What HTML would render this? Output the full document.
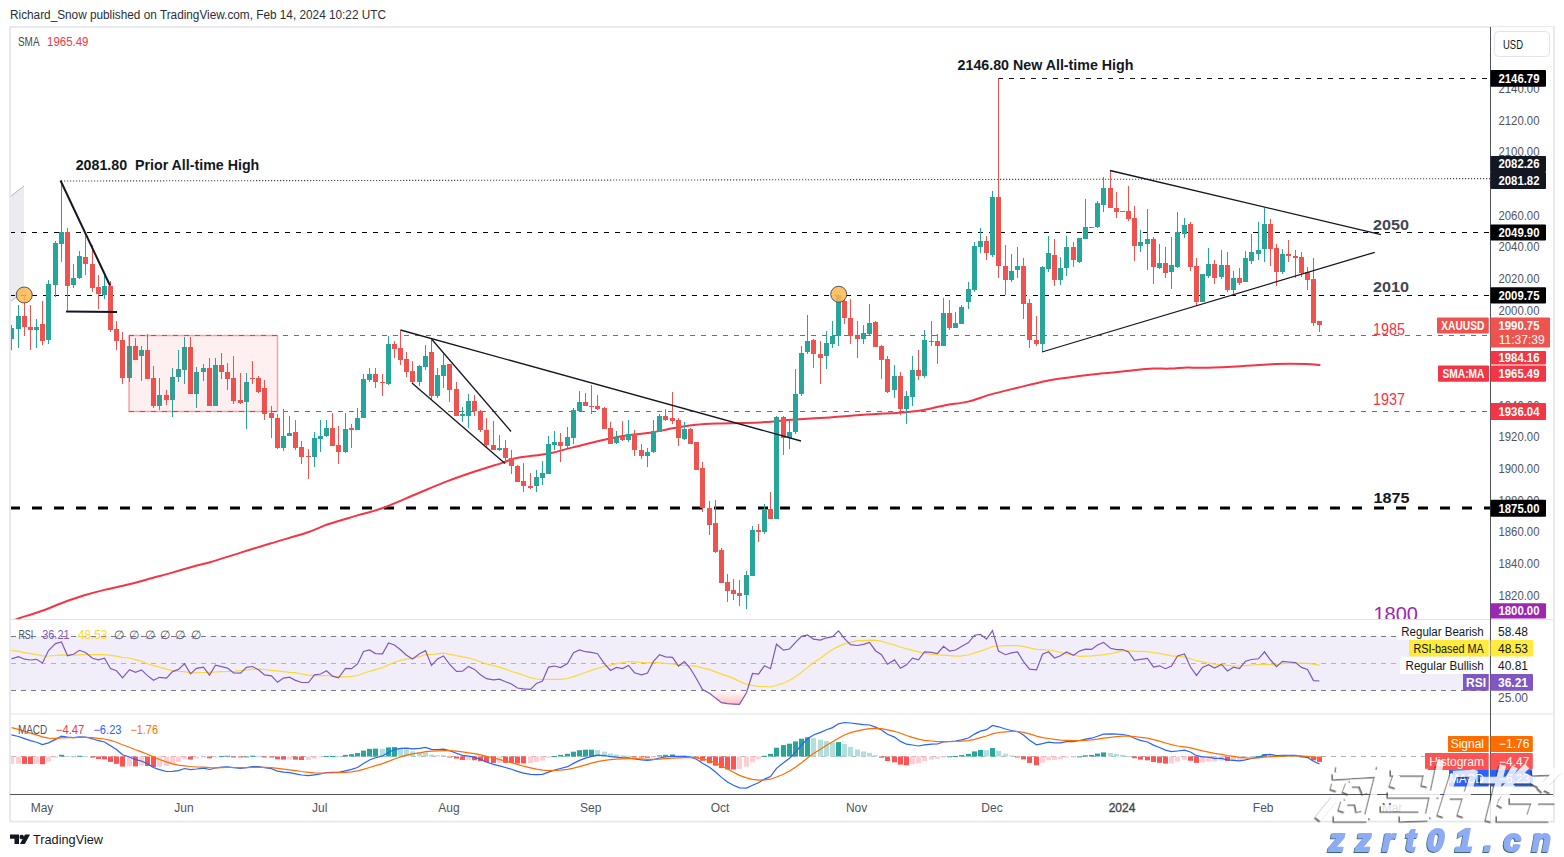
<!DOCTYPE html><html><head><meta charset="utf-8"><style>html,body{margin:0;padding:0;background:#fff;width:1564px;height:857px;overflow:hidden}svg{display:block}text{font-family:"Liberation Sans",sans-serif}</style></head><body>
<svg width="1564" height="857" viewBox="0 0 1564 857">
<text x="10" y="19" font-size="12" fill="#2a2e39" textLength="376" lengthAdjust="spacingAndGlyphs">Richard_Snow published on TradingView.com, Feb 14, 2024 10:22 UTC</text>
<rect x="10" y="27" width="1544" height="794.5" fill="none" stroke="#e6e8ee" stroke-width="1.8"/>
<line x1="10" y1="619.5" x2="1553" y2="619.5" stroke="#e0e3eb" stroke-width="1"/>
<line x1="10" y1="714" x2="1553" y2="714" stroke="#e0e3eb" stroke-width="1"/>
<line x1="10" y1="794.5" x2="1553" y2="794.5" stroke="#50535e" stroke-width="1"/>
<line x1="1490.5" y1="27" x2="1490.5" y2="821" stroke="#50535e" stroke-width="1"/>
<defs><clipPath id="mp"><rect x="11" y="27" width="1479" height="592"/></clipPath><clipPath id="rp"><rect x="11" y="620" width="1479" height="94"/></clipPath><clipPath id="mc"><rect x="11" y="714.5" width="1479" height="80"/></clipPath><linearGradient id="osg" x1="0" y1="0" x2="0" y2="1"><stop offset="0" stop-color="#ff5252" stop-opacity="0"/><stop offset="1" stop-color="#ff5252" stop-opacity="0.45"/></linearGradient></defs>
<g clip-path="url(#mp)">
<polygon points="10,197 24,186 24,291 10,302" fill="#ebecef"/>
<line x1="10" y1="197" x2="24" y2="186" stroke="#b2b5be" stroke-width="1"/>
<line x1="10" y1="302" x2="24" y2="291" stroke="#b2b5be" stroke-width="1"/>
<line x1="10" y1="232.5" x2="1490" y2="232.5" stroke="#000" stroke-width="1" stroke-dasharray="5,6" stroke-dashoffset="-0"/>
<line x1="10" y1="295.5" x2="1490" y2="295.5" stroke="#000" stroke-width="1" stroke-dasharray="5,6"/>
<line x1="10" y1="508" x2="1490" y2="508" stroke="#000" stroke-width="3" stroke-dasharray="10,12"/>
<line x1="61" y1="181" x2="1490" y2="178.6" stroke="#434651" stroke-width="1.1" stroke-dasharray="1.2,1.8"/>
<line x1="998" y1="78.5" x2="1490" y2="78.5" stroke="#131722" stroke-width="1" stroke-dasharray="5,6"/>
<line x1="129" y1="335.5" x2="1490" y2="335.5" stroke="#f23645" stroke-width="1" stroke-dasharray="5,6"/>
<line x1="129" y1="411.5" x2="1490" y2="411.5" stroke="#f23645" stroke-width="1" stroke-dasharray="5,6"/>
<path d="M10.00,621.50 C11.33,621.02 12.63,620.38 18.00,618.60 C23.37,616.82 34.65,613.48 42.20,610.80 C49.75,608.12 56.27,605.08 63.30,602.50 C70.33,599.92 77.37,597.45 84.40,595.30 C91.43,593.15 98.00,591.43 105.50,589.60 C113.00,587.77 121.20,586.35 129.40,584.30 C137.60,582.25 148.13,579.08 154.70,577.30 C161.27,575.52 161.77,575.57 168.80,573.60 C175.83,571.63 190.03,567.40 196.90,565.50 C203.77,563.60 202.83,564.30 210.00,562.20 C217.17,560.10 229.85,556.02 239.90,552.90 C249.95,549.78 259.08,546.90 270.30,543.50 C281.52,540.10 297.60,535.70 307.20,532.50 C316.80,529.30 319.52,527.15 327.90,524.30 C336.28,521.45 348.37,518.12 357.50,515.40 C366.63,512.68 372.70,511.65 382.70,508.00 C392.70,504.35 406.60,498.02 417.50,493.50 C428.40,488.98 438.30,484.65 448.10,480.90 C457.90,477.15 467.15,474.05 476.30,471.00 C485.45,467.95 496.25,464.77 503.00,462.60 C509.75,460.43 509.13,459.53 516.80,458.00 C524.47,456.47 539.80,455.13 549.00,453.40 C558.20,451.67 562.40,449.95 572.00,447.60 C581.60,445.25 597.00,441.40 606.60,439.30 C616.20,437.20 622.37,436.08 629.60,435.00 C636.83,433.92 642.77,433.93 650.00,432.80 C657.23,431.67 665.33,429.55 673.00,428.20 C680.67,426.85 688.33,425.50 696.00,424.70 C703.67,423.90 711.33,423.68 719.00,423.40 C726.67,423.12 734.33,423.22 742.00,423.00 C749.67,422.78 757.32,422.58 765.00,422.10 C772.68,421.62 780.42,420.72 788.10,420.10 C795.78,419.48 804.12,418.85 811.10,418.40 C818.08,417.95 823.02,417.90 830.00,417.40 C836.98,416.90 845.33,415.97 853.00,415.40 C860.67,414.83 868.33,414.43 876.00,414.00 C883.67,413.57 891.32,413.43 899.00,412.80 C906.68,412.17 914.42,411.45 922.10,410.20 C929.78,408.95 937.43,406.73 945.10,405.30 C952.77,403.87 960.43,403.42 968.10,401.60 C975.77,399.78 982.90,396.70 991.10,394.40 C999.30,392.10 1008.15,390.05 1017.30,387.80 C1026.45,385.55 1037.38,382.63 1046.00,380.90 C1054.62,379.17 1061.32,378.45 1069.00,377.40 C1076.68,376.35 1084.42,375.45 1092.10,374.60 C1099.78,373.75 1107.43,373.12 1115.10,372.30 C1122.77,371.48 1131.77,370.32 1138.10,369.70 C1144.43,369.08 1147.78,368.78 1153.10,368.60 C1158.42,368.42 1164.30,368.78 1170.00,368.60 C1175.70,368.42 1182.12,367.63 1187.30,367.50 C1192.48,367.37 1193.63,367.93 1201.10,367.80 C1208.57,367.67 1222.90,367.12 1232.10,366.70 C1241.30,366.28 1249.00,365.75 1256.30,365.30 C1263.60,364.85 1267.65,364.22 1275.90,364.00 C1284.15,363.78 1298.52,363.83 1305.80,364.00 C1313.08,364.17 1317.30,364.83 1319.60,365.00" fill="none" stroke="#f23645" stroke-width="2" stroke-linecap="round"/>
<rect x="11" y="325" width="1" height="25" fill="#26a69a"/>
<rect x="9" y="328" width="5" height="11" fill="#26a69a"/>
<rect x="18" y="305" width="1" height="43" fill="#26a69a"/>
<rect x="16" y="316" width="5" height="13" fill="#26a69a"/>
<rect x="24" y="295" width="1" height="41" fill="#ef5350"/>
<rect x="22" y="316" width="5" height="11" fill="#ef5350"/>
<rect x="30" y="305" width="1" height="45" fill="#ef5350"/>
<rect x="28" y="327" width="5" height="3" fill="#ef5350"/>
<rect x="36" y="319" width="1" height="29" fill="#26a69a"/>
<rect x="34" y="327" width="5" height="3" fill="#26a69a"/>
<rect x="42" y="301" width="1" height="44" fill="#ef5350"/>
<rect x="40" y="324" width="5" height="17" fill="#ef5350"/>
<rect x="48" y="280" width="1" height="64" fill="#26a69a"/>
<rect x="46" y="284" width="5" height="56" fill="#26a69a"/>
<rect x="55" y="241" width="1" height="56" fill="#26a69a"/>
<rect x="53" y="243" width="5" height="42" fill="#26a69a"/>
<rect x="61" y="180" width="1" height="82" fill="#26a69a"/>
<rect x="59" y="232" width="5" height="12" fill="#26a69a"/>
<rect x="67" y="228" width="1" height="82" fill="#ef5350"/>
<rect x="65" y="232" width="5" height="54" fill="#ef5350"/>
<rect x="73" y="264" width="1" height="24" fill="#26a69a"/>
<rect x="71" y="278" width="5" height="7" fill="#26a69a"/>
<rect x="79" y="251" width="1" height="28" fill="#26a69a"/>
<rect x="77" y="256" width="5" height="22" fill="#26a69a"/>
<rect x="85" y="236" width="1" height="39" fill="#ef5350"/>
<rect x="83" y="257" width="5" height="7" fill="#ef5350"/>
<rect x="92" y="245" width="1" height="47" fill="#ef5350"/>
<rect x="90" y="264" width="5" height="24" fill="#ef5350"/>
<rect x="98" y="275" width="1" height="34" fill="#ef5350"/>
<rect x="96" y="287" width="5" height="7" fill="#ef5350"/>
<rect x="104" y="275" width="1" height="24" fill="#26a69a"/>
<rect x="102" y="286" width="5" height="9" fill="#26a69a"/>
<rect x="110" y="281" width="1" height="51" fill="#ef5350"/>
<rect x="108" y="286" width="5" height="44" fill="#ef5350"/>
<rect x="116" y="321" width="1" height="29" fill="#ef5350"/>
<rect x="114" y="329" width="5" height="12" fill="#ef5350"/>
<rect x="122" y="332" width="1" height="52" fill="#ef5350"/>
<rect x="120" y="340" width="5" height="38" fill="#ef5350"/>
<rect x="129" y="335" width="1" height="47" fill="#26a69a"/>
<rect x="127" y="346" width="5" height="32" fill="#26a69a"/>
<rect x="135" y="338" width="1" height="22" fill="#ef5350"/>
<rect x="133" y="346" width="5" height="14" fill="#ef5350"/>
<rect x="141" y="346" width="1" height="35" fill="#26a69a"/>
<rect x="139" y="350" width="5" height="6" fill="#26a69a"/>
<rect x="147" y="334" width="1" height="45" fill="#ef5350"/>
<rect x="145" y="350" width="5" height="29" fill="#ef5350"/>
<rect x="153" y="366" width="1" height="42" fill="#ef5350"/>
<rect x="151" y="378" width="5" height="28" fill="#ef5350"/>
<rect x="159" y="378" width="1" height="32" fill="#26a69a"/>
<rect x="157" y="395" width="5" height="11" fill="#26a69a"/>
<rect x="166" y="390" width="1" height="15" fill="#ef5350"/>
<rect x="164" y="395" width="5" height="5" fill="#ef5350"/>
<rect x="172" y="368" width="1" height="49" fill="#26a69a"/>
<rect x="170" y="377" width="5" height="23" fill="#26a69a"/>
<rect x="178" y="350" width="1" height="32" fill="#26a69a"/>
<rect x="176" y="369" width="5" height="8" fill="#26a69a"/>
<rect x="184" y="337" width="1" height="47" fill="#26a69a"/>
<rect x="182" y="347" width="5" height="23" fill="#26a69a"/>
<rect x="190" y="337" width="1" height="57" fill="#ef5350"/>
<rect x="188" y="347" width="5" height="47" fill="#ef5350"/>
<rect x="196" y="367" width="1" height="41" fill="#26a69a"/>
<rect x="194" y="372" width="5" height="22" fill="#26a69a"/>
<rect x="203" y="364" width="1" height="17" fill="#26a69a"/>
<rect x="201" y="368" width="5" height="4" fill="#26a69a"/>
<rect x="209" y="358" width="1" height="48" fill="#ef5350"/>
<rect x="207" y="368" width="5" height="38" fill="#ef5350"/>
<rect x="215" y="358" width="1" height="48" fill="#26a69a"/>
<rect x="213" y="365" width="5" height="41" fill="#26a69a"/>
<rect x="221" y="353" width="1" height="26" fill="#ef5350"/>
<rect x="219" y="365" width="5" height="7" fill="#ef5350"/>
<rect x="227" y="363" width="1" height="27" fill="#ef5350"/>
<rect x="225" y="372" width="5" height="7" fill="#ef5350"/>
<rect x="233" y="356" width="1" height="48" fill="#ef5350"/>
<rect x="231" y="378" width="5" height="23" fill="#ef5350"/>
<rect x="240" y="373" width="1" height="31" fill="#ef5350"/>
<rect x="238" y="400" width="5" height="3" fill="#ef5350"/>
<rect x="246" y="373" width="1" height="56" fill="#26a69a"/>
<rect x="244" y="382" width="5" height="20" fill="#26a69a"/>
<rect x="252" y="361" width="1" height="23" fill="#ef5350"/>
<rect x="250" y="378" width="5" height="1" fill="#ef5350"/>
<rect x="258" y="376" width="1" height="17" fill="#ef5350"/>
<rect x="256" y="378" width="5" height="14" fill="#ef5350"/>
<rect x="264" y="380" width="1" height="40" fill="#ef5350"/>
<rect x="262" y="388" width="5" height="26" fill="#ef5350"/>
<rect x="271" y="406" width="1" height="32" fill="#ef5350"/>
<rect x="269" y="413" width="5" height="5" fill="#ef5350"/>
<rect x="277" y="414" width="1" height="35" fill="#ef5350"/>
<rect x="275" y="418" width="5" height="30" fill="#ef5350"/>
<rect x="283" y="409" width="1" height="42" fill="#26a69a"/>
<rect x="281" y="436" width="5" height="12" fill="#26a69a"/>
<rect x="289" y="416" width="1" height="20" fill="#26a69a"/>
<rect x="287" y="433" width="5" height="3" fill="#26a69a"/>
<rect x="295" y="420" width="1" height="30" fill="#ef5350"/>
<rect x="293" y="432" width="5" height="16" fill="#ef5350"/>
<rect x="301" y="441" width="1" height="23" fill="#ef5350"/>
<rect x="299" y="447" width="5" height="10" fill="#ef5350"/>
<rect x="308" y="449" width="1" height="30" fill="#ef5350"/>
<rect x="306" y="456" width="5" height="1" fill="#ef5350"/>
<rect x="314" y="432" width="1" height="35" fill="#26a69a"/>
<rect x="312" y="438" width="5" height="19" fill="#26a69a"/>
<rect x="320" y="420" width="1" height="32" fill="#26a69a"/>
<rect x="318" y="436" width="5" height="3" fill="#26a69a"/>
<rect x="326" y="420" width="1" height="17" fill="#26a69a"/>
<rect x="324" y="428" width="5" height="8" fill="#26a69a"/>
<rect x="332" y="413" width="1" height="33" fill="#ef5350"/>
<rect x="330" y="428" width="5" height="18" fill="#ef5350"/>
<rect x="338" y="426" width="1" height="38" fill="#ef5350"/>
<rect x="336" y="445" width="5" height="7" fill="#ef5350"/>
<rect x="345" y="413" width="1" height="40" fill="#26a69a"/>
<rect x="343" y="429" width="5" height="23" fill="#26a69a"/>
<rect x="351" y="424" width="1" height="24" fill="#ef5350"/>
<rect x="349" y="428" width="5" height="2" fill="#ef5350"/>
<rect x="357" y="408" width="1" height="22" fill="#26a69a"/>
<rect x="355" y="418" width="5" height="12" fill="#26a69a"/>
<rect x="363" y="374" width="1" height="44" fill="#26a69a"/>
<rect x="361" y="379" width="5" height="39" fill="#26a69a"/>
<rect x="369" y="368" width="1" height="14" fill="#26a69a"/>
<rect x="367" y="374" width="5" height="6" fill="#26a69a"/>
<rect x="375" y="368" width="1" height="20" fill="#ef5350"/>
<rect x="373" y="374" width="5" height="8" fill="#ef5350"/>
<rect x="382" y="374" width="1" height="22" fill="#ef5350"/>
<rect x="380" y="382" width="5" height="1" fill="#ef5350"/>
<rect x="388" y="336" width="1" height="49" fill="#26a69a"/>
<rect x="386" y="344" width="5" height="40" fill="#26a69a"/>
<rect x="394" y="341" width="1" height="17" fill="#ef5350"/>
<rect x="392" y="344" width="5" height="5" fill="#ef5350"/>
<rect x="400" y="330" width="1" height="35" fill="#ef5350"/>
<rect x="398" y="348" width="5" height="12" fill="#ef5350"/>
<rect x="406" y="352" width="1" height="25" fill="#ef5350"/>
<rect x="404" y="359" width="5" height="13" fill="#ef5350"/>
<rect x="412" y="361" width="1" height="22" fill="#ef5350"/>
<rect x="410" y="371" width="5" height="11" fill="#ef5350"/>
<rect x="419" y="365" width="1" height="21" fill="#26a69a"/>
<rect x="417" y="366" width="5" height="16" fill="#26a69a"/>
<rect x="425" y="345" width="1" height="25" fill="#26a69a"/>
<rect x="423" y="356" width="5" height="11" fill="#26a69a"/>
<rect x="431" y="340" width="1" height="60" fill="#ef5350"/>
<rect x="429" y="352" width="5" height="44" fill="#ef5350"/>
<rect x="437" y="368" width="1" height="30" fill="#26a69a"/>
<rect x="435" y="375" width="5" height="21" fill="#26a69a"/>
<rect x="443" y="354" width="1" height="34" fill="#26a69a"/>
<rect x="441" y="365" width="5" height="11" fill="#26a69a"/>
<rect x="449" y="364" width="1" height="38" fill="#ef5350"/>
<rect x="447" y="364" width="5" height="26" fill="#ef5350"/>
<rect x="456" y="382" width="1" height="34" fill="#ef5350"/>
<rect x="454" y="389" width="5" height="27" fill="#ef5350"/>
<rect x="462" y="407" width="1" height="15" fill="#26a69a"/>
<rect x="460" y="414" width="5" height="2" fill="#26a69a"/>
<rect x="468" y="394" width="1" height="34" fill="#26a69a"/>
<rect x="466" y="401" width="5" height="15" fill="#26a69a"/>
<rect x="474" y="395" width="1" height="21" fill="#ef5350"/>
<rect x="472" y="401" width="5" height="10" fill="#ef5350"/>
<rect x="480" y="410" width="1" height="22" fill="#ef5350"/>
<rect x="478" y="411" width="5" height="19" fill="#ef5350"/>
<rect x="486" y="418" width="1" height="30" fill="#ef5350"/>
<rect x="484" y="430" width="5" height="15" fill="#ef5350"/>
<rect x="493" y="421" width="1" height="29" fill="#ef5350"/>
<rect x="491" y="445" width="5" height="5" fill="#ef5350"/>
<rect x="499" y="435" width="1" height="16" fill="#26a69a"/>
<rect x="497" y="448" width="5" height="2" fill="#26a69a"/>
<rect x="505" y="440" width="1" height="22" fill="#ef5350"/>
<rect x="503" y="448" width="5" height="10" fill="#ef5350"/>
<rect x="511" y="450" width="1" height="24" fill="#ef5350"/>
<rect x="509" y="458" width="5" height="8" fill="#ef5350"/>
<rect x="517" y="465" width="1" height="17" fill="#ef5350"/>
<rect x="515" y="466" width="5" height="16" fill="#ef5350"/>
<rect x="523" y="463" width="1" height="29" fill="#ef5350"/>
<rect x="521" y="481" width="5" height="5" fill="#ef5350"/>
<rect x="530" y="473" width="1" height="16" fill="#ef5350"/>
<rect x="528" y="486" width="5" height="2" fill="#ef5350"/>
<rect x="536" y="470" width="1" height="22" fill="#26a69a"/>
<rect x="534" y="477" width="5" height="9" fill="#26a69a"/>
<rect x="542" y="461" width="1" height="24" fill="#26a69a"/>
<rect x="540" y="473" width="5" height="5" fill="#26a69a"/>
<rect x="548" y="436" width="1" height="38" fill="#26a69a"/>
<rect x="546" y="444" width="5" height="30" fill="#26a69a"/>
<rect x="554" y="431" width="1" height="19" fill="#26a69a"/>
<rect x="552" y="442" width="5" height="3" fill="#26a69a"/>
<rect x="560" y="433" width="1" height="29" fill="#ef5350"/>
<rect x="558" y="442" width="5" height="4" fill="#ef5350"/>
<rect x="567" y="427" width="1" height="21" fill="#26a69a"/>
<rect x="565" y="437" width="5" height="9" fill="#26a69a"/>
<rect x="573" y="408" width="1" height="36" fill="#26a69a"/>
<rect x="571" y="410" width="5" height="28" fill="#26a69a"/>
<rect x="579" y="391" width="1" height="21" fill="#26a69a"/>
<rect x="577" y="402" width="5" height="9" fill="#26a69a"/>
<rect x="585" y="393" width="1" height="13" fill="#ef5350"/>
<rect x="583" y="402" width="5" height="4" fill="#ef5350"/>
<rect x="591" y="385" width="1" height="29" fill="#ef5350"/>
<rect x="589" y="406" width="5" height="1" fill="#ef5350"/>
<rect x="597" y="395" width="1" height="15" fill="#ef5350"/>
<rect x="595" y="406" width="5" height="3" fill="#ef5350"/>
<rect x="604" y="407" width="1" height="22" fill="#ef5350"/>
<rect x="602" y="408" width="5" height="21" fill="#ef5350"/>
<rect x="610" y="422" width="1" height="22" fill="#ef5350"/>
<rect x="608" y="428" width="5" height="16" fill="#ef5350"/>
<rect x="616" y="431" width="1" height="13" fill="#26a69a"/>
<rect x="614" y="438" width="5" height="5" fill="#26a69a"/>
<rect x="622" y="421" width="1" height="20" fill="#ef5350"/>
<rect x="620" y="437" width="5" height="3" fill="#ef5350"/>
<rect x="628" y="420" width="1" height="22" fill="#26a69a"/>
<rect x="626" y="434" width="5" height="6" fill="#26a69a"/>
<rect x="634" y="430" width="1" height="26" fill="#ef5350"/>
<rect x="632" y="434" width="5" height="16" fill="#ef5350"/>
<rect x="641" y="444" width="1" height="15" fill="#ef5350"/>
<rect x="639" y="450" width="5" height="6" fill="#ef5350"/>
<rect x="647" y="448" width="1" height="19" fill="#26a69a"/>
<rect x="645" y="452" width="5" height="4" fill="#26a69a"/>
<rect x="653" y="420" width="1" height="33" fill="#26a69a"/>
<rect x="651" y="431" width="5" height="21" fill="#26a69a"/>
<rect x="659" y="414" width="1" height="18" fill="#26a69a"/>
<rect x="657" y="416" width="5" height="16" fill="#26a69a"/>
<rect x="665" y="409" width="1" height="12" fill="#ef5350"/>
<rect x="663" y="416" width="5" height="4" fill="#ef5350"/>
<rect x="672" y="392" width="1" height="32" fill="#ef5350"/>
<rect x="670" y="418" width="5" height="3" fill="#ef5350"/>
<rect x="678" y="418" width="1" height="28" fill="#ef5350"/>
<rect x="676" y="420" width="5" height="18" fill="#ef5350"/>
<rect x="684" y="422" width="1" height="18" fill="#26a69a"/>
<rect x="682" y="429" width="5" height="10" fill="#26a69a"/>
<rect x="690" y="428" width="1" height="16" fill="#ef5350"/>
<rect x="688" y="429" width="5" height="15" fill="#ef5350"/>
<rect x="696" y="442" width="1" height="28" fill="#ef5350"/>
<rect x="694" y="442" width="5" height="28" fill="#ef5350"/>
<rect x="702" y="462" width="1" height="50" fill="#ef5350"/>
<rect x="700" y="468" width="5" height="40" fill="#ef5350"/>
<rect x="709" y="501" width="1" height="34" fill="#ef5350"/>
<rect x="707" y="508" width="5" height="17" fill="#ef5350"/>
<rect x="715" y="500" width="1" height="53" fill="#ef5350"/>
<rect x="713" y="523" width="5" height="29" fill="#ef5350"/>
<rect x="721" y="548" width="1" height="35" fill="#ef5350"/>
<rect x="719" y="550" width="5" height="33" fill="#ef5350"/>
<rect x="727" y="574" width="1" height="28" fill="#ef5350"/>
<rect x="725" y="582" width="5" height="9" fill="#ef5350"/>
<rect x="733" y="579" width="1" height="21" fill="#ef5350"/>
<rect x="731" y="590" width="5" height="4" fill="#ef5350"/>
<rect x="739" y="580" width="1" height="26" fill="#ef5350"/>
<rect x="737" y="593" width="5" height="3" fill="#ef5350"/>
<rect x="746" y="571" width="1" height="38" fill="#26a69a"/>
<rect x="744" y="575" width="5" height="20" fill="#26a69a"/>
<rect x="752" y="526" width="1" height="50" fill="#26a69a"/>
<rect x="750" y="530" width="5" height="46" fill="#26a69a"/>
<rect x="758" y="524" width="1" height="18" fill="#ef5350"/>
<rect x="756" y="530" width="5" height="2" fill="#ef5350"/>
<rect x="764" y="504" width="1" height="30" fill="#26a69a"/>
<rect x="762" y="509" width="5" height="23" fill="#26a69a"/>
<rect x="770" y="492" width="1" height="27" fill="#ef5350"/>
<rect x="768" y="509" width="5" height="10" fill="#ef5350"/>
<rect x="776" y="416" width="1" height="103" fill="#26a69a"/>
<rect x="774" y="417" width="5" height="102" fill="#26a69a"/>
<rect x="783" y="416" width="1" height="39" fill="#ef5350"/>
<rect x="781" y="417" width="5" height="21" fill="#ef5350"/>
<rect x="789" y="420" width="1" height="29" fill="#26a69a"/>
<rect x="787" y="432" width="5" height="6" fill="#26a69a"/>
<rect x="795" y="369" width="1" height="65" fill="#26a69a"/>
<rect x="793" y="394" width="5" height="38" fill="#26a69a"/>
<rect x="801" y="346" width="1" height="50" fill="#26a69a"/>
<rect x="799" y="353" width="5" height="41" fill="#26a69a"/>
<rect x="807" y="315" width="1" height="39" fill="#26a69a"/>
<rect x="805" y="341" width="5" height="11" fill="#26a69a"/>
<rect x="813" y="339" width="1" height="29" fill="#ef5350"/>
<rect x="811" y="340" width="5" height="14" fill="#ef5350"/>
<rect x="820" y="341" width="1" height="43" fill="#ef5350"/>
<rect x="818" y="354" width="5" height="4" fill="#ef5350"/>
<rect x="826" y="331" width="1" height="38" fill="#26a69a"/>
<rect x="824" y="343" width="5" height="13" fill="#26a69a"/>
<rect x="832" y="321" width="1" height="27" fill="#26a69a"/>
<rect x="830" y="336" width="5" height="8" fill="#26a69a"/>
<rect x="838" y="294" width="1" height="52" fill="#26a69a"/>
<rect x="836" y="295" width="5" height="41" fill="#26a69a"/>
<rect x="844" y="299" width="1" height="25" fill="#ef5350"/>
<rect x="842" y="301" width="5" height="17" fill="#ef5350"/>
<rect x="850" y="299" width="1" height="45" fill="#ef5350"/>
<rect x="848" y="318" width="5" height="18" fill="#ef5350"/>
<rect x="857" y="321" width="1" height="37" fill="#ef5350"/>
<rect x="855" y="336" width="5" height="3" fill="#ef5350"/>
<rect x="863" y="325" width="1" height="19" fill="#26a69a"/>
<rect x="861" y="333" width="5" height="6" fill="#26a69a"/>
<rect x="869" y="304" width="1" height="31" fill="#26a69a"/>
<rect x="867" y="323" width="5" height="11" fill="#26a69a"/>
<rect x="875" y="321" width="1" height="26" fill="#ef5350"/>
<rect x="873" y="322" width="5" height="25" fill="#ef5350"/>
<rect x="881" y="345" width="1" height="34" fill="#ef5350"/>
<rect x="879" y="346" width="5" height="14" fill="#ef5350"/>
<rect x="887" y="356" width="1" height="37" fill="#ef5350"/>
<rect x="885" y="359" width="5" height="33" fill="#ef5350"/>
<rect x="894" y="365" width="1" height="33" fill="#26a69a"/>
<rect x="892" y="376" width="5" height="14" fill="#26a69a"/>
<rect x="900" y="372" width="1" height="43" fill="#ef5350"/>
<rect x="898" y="376" width="5" height="33" fill="#ef5350"/>
<rect x="906" y="391" width="1" height="33" fill="#26a69a"/>
<rect x="904" y="396" width="5" height="13" fill="#26a69a"/>
<rect x="912" y="356" width="1" height="50" fill="#26a69a"/>
<rect x="910" y="370" width="5" height="27" fill="#26a69a"/>
<rect x="918" y="350" width="1" height="30" fill="#ef5350"/>
<rect x="916" y="370" width="5" height="6" fill="#ef5350"/>
<rect x="924" y="330" width="1" height="48" fill="#26a69a"/>
<rect x="922" y="340" width="5" height="36" fill="#26a69a"/>
<rect x="931" y="321" width="1" height="25" fill="#ef5350"/>
<rect x="929" y="341" width="5" height="1" fill="#ef5350"/>
<rect x="937" y="334" width="1" height="30" fill="#ef5350"/>
<rect x="935" y="341" width="5" height="5" fill="#ef5350"/>
<rect x="943" y="298" width="1" height="48" fill="#26a69a"/>
<rect x="941" y="313" width="5" height="33" fill="#26a69a"/>
<rect x="949" y="300" width="1" height="30" fill="#ef5350"/>
<rect x="947" y="313" width="5" height="15" fill="#ef5350"/>
<rect x="955" y="312" width="1" height="16" fill="#26a69a"/>
<rect x="953" y="323" width="5" height="5" fill="#26a69a"/>
<rect x="961" y="305" width="1" height="19" fill="#26a69a"/>
<rect x="959" y="307" width="5" height="17" fill="#26a69a"/>
<rect x="968" y="282" width="1" height="27" fill="#26a69a"/>
<rect x="966" y="289" width="5" height="13" fill="#26a69a"/>
<rect x="974" y="242" width="1" height="50" fill="#26a69a"/>
<rect x="972" y="246" width="5" height="44" fill="#26a69a"/>
<rect x="980" y="228" width="1" height="25" fill="#26a69a"/>
<rect x="978" y="241" width="5" height="6" fill="#26a69a"/>
<rect x="986" y="236" width="1" height="24" fill="#ef5350"/>
<rect x="984" y="241" width="5" height="12" fill="#ef5350"/>
<rect x="992" y="191" width="1" height="66" fill="#26a69a"/>
<rect x="990" y="197" width="5" height="58" fill="#26a69a"/>
<rect x="998" y="78" width="1" height="200" fill="#ef5350"/>
<rect x="996" y="197" width="5" height="69" fill="#ef5350"/>
<rect x="1005" y="245" width="1" height="50" fill="#ef5350"/>
<rect x="1003" y="266" width="5" height="14" fill="#ef5350"/>
<rect x="1011" y="254" width="1" height="28" fill="#26a69a"/>
<rect x="1009" y="271" width="5" height="9" fill="#26a69a"/>
<rect x="1017" y="247" width="1" height="31" fill="#26a69a"/>
<rect x="1015" y="266" width="5" height="4" fill="#26a69a"/>
<rect x="1023" y="258" width="1" height="61" fill="#ef5350"/>
<rect x="1021" y="266" width="5" height="38" fill="#ef5350"/>
<rect x="1029" y="299" width="1" height="49" fill="#ef5350"/>
<rect x="1027" y="303" width="5" height="37" fill="#ef5350"/>
<rect x="1036" y="316" width="1" height="30" fill="#ef5350"/>
<rect x="1034" y="340" width="5" height="4" fill="#ef5350"/>
<rect x="1042" y="266" width="1" height="86" fill="#26a69a"/>
<rect x="1040" y="267" width="5" height="77" fill="#26a69a"/>
<rect x="1048" y="236" width="1" height="36" fill="#26a69a"/>
<rect x="1046" y="253" width="5" height="16" fill="#26a69a"/>
<rect x="1054" y="239" width="1" height="47" fill="#ef5350"/>
<rect x="1052" y="255" width="5" height="25" fill="#ef5350"/>
<rect x="1060" y="257" width="1" height="28" fill="#26a69a"/>
<rect x="1058" y="268" width="5" height="12" fill="#26a69a"/>
<rect x="1066" y="236" width="1" height="40" fill="#26a69a"/>
<rect x="1064" y="247" width="5" height="21" fill="#26a69a"/>
<rect x="1073" y="242" width="1" height="25" fill="#ef5350"/>
<rect x="1071" y="247" width="5" height="13" fill="#ef5350"/>
<rect x="1079" y="238" width="1" height="25" fill="#26a69a"/>
<rect x="1077" y="238" width="5" height="24" fill="#26a69a"/>
<rect x="1085" y="199" width="1" height="40" fill="#26a69a"/>
<rect x="1083" y="227" width="5" height="12" fill="#26a69a"/>
<rect x="1091" y="227" width="1" height="1" fill="#ef5350"/>
<rect x="1089" y="227" width="5" height="1" fill="#ef5350"/>
<rect x="1097" y="201" width="1" height="27" fill="#26a69a"/>
<rect x="1095" y="203" width="5" height="24" fill="#26a69a"/>
<rect x="1103" y="177" width="1" height="35" fill="#26a69a"/>
<rect x="1101" y="188" width="5" height="17" fill="#26a69a"/>
<rect x="1110" y="170" width="1" height="38" fill="#ef5350"/>
<rect x="1108" y="188" width="5" height="20" fill="#ef5350"/>
<rect x="1116" y="192" width="1" height="26" fill="#ef5350"/>
<rect x="1114" y="208" width="5" height="4" fill="#ef5350"/>
<rect x="1122" y="211" width="1" height="1" fill="#26a69a"/>
<rect x="1120" y="211" width="5" height="1" fill="#26a69a"/>
<rect x="1128" y="186" width="1" height="35" fill="#ef5350"/>
<rect x="1126" y="211" width="5" height="8" fill="#ef5350"/>
<rect x="1134" y="206" width="1" height="55" fill="#ef5350"/>
<rect x="1132" y="218" width="5" height="28" fill="#ef5350"/>
<rect x="1140" y="230" width="1" height="22" fill="#26a69a"/>
<rect x="1138" y="242" width="5" height="4" fill="#26a69a"/>
<rect x="1147" y="209" width="1" height="61" fill="#26a69a"/>
<rect x="1145" y="239" width="5" height="5" fill="#26a69a"/>
<rect x="1153" y="237" width="1" height="47" fill="#ef5350"/>
<rect x="1151" y="239" width="5" height="28" fill="#ef5350"/>
<rect x="1159" y="244" width="1" height="25" fill="#26a69a"/>
<rect x="1157" y="263" width="5" height="5" fill="#26a69a"/>
<rect x="1165" y="247" width="1" height="31" fill="#ef5350"/>
<rect x="1163" y="263" width="5" height="10" fill="#ef5350"/>
<rect x="1171" y="237" width="1" height="52" fill="#26a69a"/>
<rect x="1169" y="265" width="5" height="7" fill="#26a69a"/>
<rect x="1177" y="212" width="1" height="56" fill="#26a69a"/>
<rect x="1175" y="232" width="5" height="35" fill="#26a69a"/>
<rect x="1184" y="218" width="1" height="20" fill="#26a69a"/>
<rect x="1182" y="225" width="5" height="9" fill="#26a69a"/>
<rect x="1190" y="222" width="1" height="49" fill="#ef5350"/>
<rect x="1188" y="224" width="5" height="43" fill="#ef5350"/>
<rect x="1196" y="258" width="1" height="48" fill="#ef5350"/>
<rect x="1194" y="266" width="5" height="36" fill="#ef5350"/>
<rect x="1202" y="274" width="1" height="28" fill="#26a69a"/>
<rect x="1200" y="274" width="5" height="28" fill="#26a69a"/>
<rect x="1208" y="248" width="1" height="30" fill="#26a69a"/>
<rect x="1206" y="264" width="5" height="12" fill="#26a69a"/>
<rect x="1214" y="260" width="1" height="24" fill="#ef5350"/>
<rect x="1212" y="264" width="5" height="14" fill="#ef5350"/>
<rect x="1221" y="250" width="1" height="29" fill="#26a69a"/>
<rect x="1219" y="265" width="5" height="12" fill="#26a69a"/>
<rect x="1227" y="252" width="1" height="40" fill="#ef5350"/>
<rect x="1225" y="265" width="5" height="25" fill="#ef5350"/>
<rect x="1233" y="271" width="1" height="23" fill="#26a69a"/>
<rect x="1231" y="278" width="5" height="12" fill="#26a69a"/>
<rect x="1239" y="268" width="1" height="17" fill="#ef5350"/>
<rect x="1237" y="278" width="5" height="5" fill="#ef5350"/>
<rect x="1245" y="251" width="1" height="31" fill="#26a69a"/>
<rect x="1243" y="258" width="5" height="24" fill="#26a69a"/>
<rect x="1251" y="234" width="1" height="30" fill="#26a69a"/>
<rect x="1249" y="252" width="5" height="9" fill="#26a69a"/>
<rect x="1258" y="222" width="1" height="38" fill="#26a69a"/>
<rect x="1256" y="250" width="5" height="4" fill="#26a69a"/>
<rect x="1264" y="208" width="1" height="54" fill="#26a69a"/>
<rect x="1262" y="224" width="5" height="25" fill="#26a69a"/>
<rect x="1270" y="219" width="1" height="47" fill="#ef5350"/>
<rect x="1268" y="224" width="5" height="25" fill="#ef5350"/>
<rect x="1276" y="244" width="1" height="42" fill="#ef5350"/>
<rect x="1274" y="248" width="5" height="24" fill="#ef5350"/>
<rect x="1282" y="249" width="1" height="25" fill="#26a69a"/>
<rect x="1280" y="254" width="5" height="18" fill="#26a69a"/>
<rect x="1288" y="240" width="1" height="22" fill="#ef5350"/>
<rect x="1286" y="254" width="5" height="2" fill="#ef5350"/>
<rect x="1295" y="250" width="1" height="28" fill="#ef5350"/>
<rect x="1293" y="256" width="5" height="2" fill="#ef5350"/>
<rect x="1301" y="252" width="1" height="25" fill="#ef5350"/>
<rect x="1299" y="257" width="5" height="16" fill="#ef5350"/>
<rect x="1307" y="267" width="1" height="23" fill="#ef5350"/>
<rect x="1305" y="272" width="5" height="8" fill="#ef5350"/>
<rect x="1313" y="258" width="1" height="68" fill="#ef5350"/>
<rect x="1311" y="279" width="5" height="44" fill="#ef5350"/>
<rect x="1319" y="321" width="1" height="11" fill="#ef5350"/>
<rect x="1317" y="321" width="5" height="4" fill="#ef5350"/>
<rect x="129" y="335.5" width="148.5" height="76" fill="#f23645" fill-opacity="0.08" stroke="#f23645" stroke-opacity="0.45" stroke-width="1.5"/>
<line x1="60.5" y1="180.5" x2="110" y2="285.5" stroke="#131722" stroke-width="2"/>
<line x1="66" y1="311.5" x2="117" y2="312" stroke="#131722" stroke-width="2"/>
<line x1="400.5" y1="330" x2="801" y2="441" stroke="#131722" stroke-width="1.3"/>
<line x1="431.5" y1="339" x2="511" y2="431.5" stroke="#131722" stroke-width="1.3"/>
<line x1="412" y1="383" x2="505" y2="463.5" stroke="#131722" stroke-width="1.3"/>
<line x1="1110" y1="170.5" x2="1381" y2="234.7" stroke="#131722" stroke-width="1.3"/>
<line x1="1042" y1="352" x2="1374.7" y2="252.3" stroke="#131722" stroke-width="1.3"/>
<circle cx="24.25" cy="295" r="8" fill="#ffb74d" fill-opacity="0.85" stroke="#50535e" stroke-width="1"/>
<circle cx="838.75" cy="294.25" r="8" fill="#ffb74d" fill-opacity="0.85" stroke="#50535e" stroke-width="1"/>
<text x="75.7" y="169.5" font-size="14" font-weight="bold" fill="#131722" textLength="183.6" lengthAdjust="spacingAndGlyphs" xml:space="preserve">2081.80  Prior All-time High</text>
<text x="957.6" y="70.2" font-size="14" font-weight="bold" fill="#131722" textLength="175.8" lengthAdjust="spacingAndGlyphs">2146.80 New All-time High</text>
<text x="1373" y="230" font-size="15" font-weight="bold" fill="#434651" textLength="36" lengthAdjust="spacingAndGlyphs">2050</text>
<text x="1373" y="291.5" font-size="15" font-weight="bold" fill="#434651" textLength="36" lengthAdjust="spacingAndGlyphs">2010</text>
<text x="1373" y="334.7" font-size="16" fill="#f23645" textLength="32" lengthAdjust="spacingAndGlyphs">1985</text>
<text x="1373" y="405" font-size="16" fill="#f23645" textLength="32" lengthAdjust="spacingAndGlyphs">1937</text>
<text x="1373.5" y="502.7" font-size="15" font-weight="bold" fill="#131722" textLength="36" lengthAdjust="spacingAndGlyphs">1875</text>
<text x="1373.5" y="620.5" font-size="21" fill="#9c27b0" textLength="44.5" lengthAdjust="spacingAndGlyphs">1800</text>
</g>
<text x="18" y="45.7" font-size="12.5" fill="#434651" textLength="21.5" lengthAdjust="spacingAndGlyphs">SMA</text>
<text x="47" y="45.7" font-size="12.5" fill="#f23645" textLength="41.5" lengthAdjust="spacingAndGlyphs">1965.49</text>
<text x="1498.5" y="599.7" font-size="12" fill="#50535e" textLength="41" lengthAdjust="spacingAndGlyphs">1820.00</text>
<text x="1498.5" y="568.0" font-size="12" fill="#50535e" textLength="41" lengthAdjust="spacingAndGlyphs">1840.00</text>
<text x="1498.5" y="536.4" font-size="12" fill="#50535e" textLength="41" lengthAdjust="spacingAndGlyphs">1860.00</text>
<text x="1498.5" y="504.7" font-size="12" fill="#50535e" textLength="41" lengthAdjust="spacingAndGlyphs">1880.00</text>
<text x="1498.5" y="473.0" font-size="12" fill="#50535e" textLength="41" lengthAdjust="spacingAndGlyphs">1900.00</text>
<text x="1498.5" y="441.4" font-size="12" fill="#50535e" textLength="41" lengthAdjust="spacingAndGlyphs">1920.00</text>
<text x="1498.5" y="409.7" font-size="12" fill="#50535e" textLength="41" lengthAdjust="spacingAndGlyphs">1940.00</text>
<text x="1498.5" y="378.0" font-size="12" fill="#50535e" textLength="41" lengthAdjust="spacingAndGlyphs">1960.00</text>
<text x="1498.5" y="346.4" font-size="12" fill="#50535e" textLength="41" lengthAdjust="spacingAndGlyphs">1980.00</text>
<text x="1498.5" y="314.7" font-size="12" fill="#50535e" textLength="41" lengthAdjust="spacingAndGlyphs">2000.00</text>
<text x="1498.5" y="283.0" font-size="12" fill="#50535e" textLength="41" lengthAdjust="spacingAndGlyphs">2020.00</text>
<text x="1498.5" y="251.4" font-size="12" fill="#50535e" textLength="41" lengthAdjust="spacingAndGlyphs">2040.00</text>
<text x="1498.5" y="219.7" font-size="12" fill="#50535e" textLength="41" lengthAdjust="spacingAndGlyphs">2060.00</text>
<text x="1498.5" y="188.0" font-size="12" fill="#50535e" textLength="41" lengthAdjust="spacingAndGlyphs">2080.00</text>
<text x="1498.5" y="156.4" font-size="12" fill="#50535e" textLength="41" lengthAdjust="spacingAndGlyphs">2100.00</text>
<text x="1498.5" y="124.7" font-size="12" fill="#50535e" textLength="41" lengthAdjust="spacingAndGlyphs">2120.00</text>
<text x="1498.5" y="93.0" font-size="12" fill="#50535e" textLength="41" lengthAdjust="spacingAndGlyphs">2140.00</text>
<rect x="1491" y="27" width="62" height="33" fill="#fff"/>
<rect x="1494.5" y="31.5" width="55" height="25" rx="4" fill="#fff" stroke="#e0e3eb"/>
<text x="1503" y="48.5" font-size="12" fill="#131722" textLength="20" lengthAdjust="spacingAndGlyphs">USD</text>
<rect x="1490.5" y="70" width="55.5" height="16.8" fill="#000" rx="1"/>
<text x="1498.5" y="82.7" font-size="12" font-weight="bold" fill="#fff" textLength="41" lengthAdjust="spacingAndGlyphs">2146.79</text>
<rect x="1490.5" y="156" width="55.5" height="16" fill="#131722" rx="1"/>
<text x="1498.5" y="168.3" font-size="12" font-weight="bold" fill="#fff" textLength="41" lengthAdjust="spacingAndGlyphs">2082.26</text>
<rect x="1490.5" y="172" width="55.5" height="17" fill="#131722" rx="1"/>
<text x="1498.5" y="184.8" font-size="12" font-weight="bold" fill="#fff" textLength="41" lengthAdjust="spacingAndGlyphs">2081.82</text>
<rect x="1490.5" y="224.4" width="55.5" height="16.1" fill="#000" rx="1"/>
<text x="1498.5" y="236.75" font-size="12" font-weight="bold" fill="#fff" textLength="41" lengthAdjust="spacingAndGlyphs">2049.90</text>
<rect x="1490.5" y="287.2" width="55.5" height="16.2" fill="#000" rx="1"/>
<text x="1498.5" y="299.6" font-size="12" font-weight="bold" fill="#fff" textLength="41" lengthAdjust="spacingAndGlyphs">2009.75</text>
<rect x="1437" y="317.5" width="51.8" height="16" fill="#ef5350" rx="1"/>
<text x="1441.3" y="329.8" font-size="12" font-weight="bold" fill="#fff" textLength="43" lengthAdjust="spacingAndGlyphs">XAUUSD</text>
<rect x="1490.5" y="317.5" width="59.5" height="30" fill="#ef5350" rx="1"/>
<text x="1498.5" y="329.8" font-size="12" font-weight="bold" fill="#fff" textLength="41" lengthAdjust="spacingAndGlyphs">1990.75</text>
<text x="1498.7" y="344" font-size="12" fill="#fff" textLength="46" lengthAdjust="spacingAndGlyphs">11:37:39</text>
<rect x="1490.5" y="351" width="55.5" height="13.5" fill="#f23645" rx="1"/>
<text x="1498.5" y="362.05" font-size="12" font-weight="bold" fill="#fff" textLength="41" lengthAdjust="spacingAndGlyphs">1984.16</text>
<rect x="1438" y="365.5" width="51" height="16.2" fill="#f23645" rx="1"/>
<text x="1442.5" y="377.8" font-size="12" font-weight="bold" fill="#fff" textLength="42" lengthAdjust="spacingAndGlyphs">SMA:MA</text>
<rect x="1490.5" y="365.5" width="55.5" height="16.2" fill="#f23645" rx="1"/>
<text x="1498.5" y="377.9" font-size="12" font-weight="bold" fill="#fff" textLength="41" lengthAdjust="spacingAndGlyphs">1965.49</text>
<rect x="1490.5" y="403" width="55.5" height="17" fill="#f23645" rx="1"/>
<text x="1498.5" y="415.8" font-size="12" font-weight="bold" fill="#fff" textLength="41" lengthAdjust="spacingAndGlyphs">1936.04</text>
<rect x="1490.5" y="499.8" width="55.5" height="16.9" fill="#000" rx="1"/>
<text x="1498.5" y="512.55" font-size="12" font-weight="bold" fill="#fff" textLength="41" lengthAdjust="spacingAndGlyphs">1875.00</text>
<rect x="1490.5" y="603.3" width="55.5" height="15.3" fill="#9c27b0" rx="1"/>
<text x="1498.5" y="615.25" font-size="12" font-weight="bold" fill="#fff" textLength="41" lengthAdjust="spacingAndGlyphs">1800.00</text>
<g clip-path="url(#rp)">
<rect x="11" y="636.3" width="1479" height="53.7" fill="#7e57c2" fill-opacity="0.1"/>
<line x1="11" y1="636.5" x2="1490" y2="636.5" stroke="#787b86" stroke-dasharray="5,5"/>
<line x1="11" y1="663.5" x2="1490" y2="663.5" stroke="#b2b5be" stroke-dasharray="5,5"/>
<line x1="11" y1="690.5" x2="1490" y2="690.5" stroke="#787b86" stroke-dasharray="5,5"/>
<clipPath id="osc"><rect x="11" y="690.2" width="1479" height="24"/></clipPath>
<polygon clip-path="url(#osc)" points="11.5,658.9 18.5,656.6 24.5,659.2 30.5,660.0 36.5,659.3 42.5,663.0 48.5,650.5 55.5,643.6 61.5,642.0 67.5,655.7 73.5,654.3 79.5,650.3 85.5,652.5 92.5,658.3 98.5,659.9 104.5,658.1 110.5,668.5 116.5,670.8 122.5,677.8 129.5,669.7 135.5,672.4 141.5,669.9 147.5,675.6 153.5,680.3 159.5,677.3 166.5,678.1 172.5,671.6 178.5,669.4 184.5,663.6 190.5,673.9 196.5,668.4 203.5,667.2 209.5,675.1 215.5,665.1 221.5,666.7 227.5,668.1 233.5,672.8 240.5,673.2 246.5,667.3 252.5,666.5 258.5,669.8 264.5,674.9 271.5,675.8 277.5,682.3 283.5,678.1 289.5,677.1 295.5,680.4 301.5,682.5 308.5,682.5 314.5,674.8 320.5,674.0 326.5,670.8 332.5,676.1 338.5,677.9 345.5,668.4 351.5,668.6 357.5,663.9 363.5,651.4 369.5,649.9 375.5,653.6 382.5,653.8 388.5,642.9 394.5,645.0 400.5,649.7 406.5,655.2 412.5,659.1 419.5,653.7 425.5,650.6 431.5,665.5 437.5,658.9 443.5,656.0 449.5,664.1 456.5,671.4 462.5,671.1 468.5,666.4 474.5,669.4 480.5,674.7 486.5,678.7 493.5,679.8 499.5,679.2 505.5,681.8 511.5,684.0 517.5,688.0 523.5,688.9 530.5,689.4 536.5,683.4 542.5,681.1 548.5,667.1 554.5,666.0 560.5,667.5 567.5,663.5 573.5,652.7 579.5,649.9 585.5,651.7 591.5,652.3 597.5,653.7 604.5,663.9 610.5,670.5 616.5,667.5 622.5,668.6 628.5,665.4 634.5,672.7 641.5,674.8 647.5,673.0 653.5,661.4 659.5,654.7 665.5,656.9 672.5,657.4 678.5,666.1 684.5,661.6 690.5,668.8 696.5,678.8 702.5,689.5 709.5,693.2 715.5,698.1 721.5,702.7 727.5,703.7 733.5,704.1 739.5,704.4 746.5,692.7 752.5,673.5 758.5,674.1 764.5,665.7 770.5,668.7 776.5,644.2 783.5,650.1 789.5,649.0 795.5,642.4 801.5,636.4 807.5,634.9 813.5,639.2 820.5,640.1 826.5,637.8 832.5,636.6 838.5,630.9 844.5,638.6 850.5,644.6 857.5,645.5 863.5,644.3 869.5,642.4 875.5,650.7 881.5,654.7 887.5,664.2 894.5,659.9 900.5,668.3 906.5,664.8 912.5,658.2 918.5,659.8 924.5,651.8 931.5,652.4 937.5,653.5 943.5,646.3 949.5,651.0 955.5,650.0 961.5,646.4 968.5,642.6 974.5,635.2 980.5,634.4 986.5,639.1 992.5,630.7 998.5,651.1 1005.5,654.7 1011.5,652.9 1017.5,652.0 1023.5,661.6 1029.5,669.1 1036.5,669.9 1042.5,654.2 1048.5,651.8 1054.5,658.0 1060.5,655.7 1066.5,651.9 1073.5,655.2 1079.5,651.1 1085.5,649.2 1091.5,649.4 1097.5,644.9 1103.5,642.4 1110.5,648.3 1116.5,649.7 1122.5,649.5 1128.5,652.0 1134.5,660.3 1140.5,659.4 1147.5,658.5 1153.5,667.1 1159.5,665.8 1165.5,668.7 1171.5,666.0 1177.5,656.0 1184.5,653.9 1190.5,667.0 1196.5,675.4 1202.5,667.4 1208.5,664.7 1214.5,668.1 1221.5,664.4 1227.5,670.9 1233.5,667.2 1239.5,668.5 1245.5,661.2 1251.5,659.5 1258.5,658.8 1264.5,651.8 1270.5,660.0 1276.5,666.6 1282.5,661.4 1288.5,662.0 1295.5,662.6 1301.5,667.4 1307.5,669.5 1313.5,680.6 1319.5,681.0 1319.5,690.2 11.5,690.2" fill="url(#osg2)"/>
<linearGradient id="osg2" gradientUnits="userSpaceOnUse" x1="0" y1="690" x2="0" y2="706"><stop offset="0" stop-color="#ff5252" stop-opacity="0"/><stop offset="1" stop-color="#ff5252" stop-opacity="0.4"/></linearGradient>
<polyline points="11.5,650.4 18.5,651.4 24.5,652.6 30.5,653.7 36.5,654.7 42.5,655.8 48.5,656.0 55.5,655.5 61.5,654.9 67.5,655.1 73.5,655.2 79.5,654.8 85.5,654.5 92.5,654.6 98.5,654.6 104.5,654.7 110.5,655.4 116.5,656.2 122.5,657.5 129.5,658.0 135.5,659.6 141.5,661.4 147.5,663.8 153.5,665.6 159.5,667.2 166.5,669.2 172.5,670.6 178.5,671.4 184.5,671.6 190.5,672.8 196.5,672.8 203.5,672.5 209.5,672.3 215.5,672.0 221.5,671.6 227.5,671.5 233.5,671.3 240.5,670.7 246.5,670.0 252.5,669.2 258.5,669.1 264.5,669.5 271.5,670.3 277.5,670.9 283.5,671.6 289.5,672.3 295.5,672.7 301.5,674.0 308.5,675.1 314.5,675.6 320.5,675.7 326.5,675.5 332.5,676.1 338.5,676.9 345.5,676.8 351.5,676.4 357.5,675.5 363.5,673.3 369.5,671.3 375.5,669.6 382.5,667.7 388.5,664.9 394.5,662.2 400.5,660.4 406.5,659.1 412.5,658.3 419.5,656.7 425.5,654.7 431.5,654.5 437.5,653.8 443.5,653.2 449.5,654.1 456.5,655.7 462.5,656.9 468.5,657.8 474.5,659.7 480.5,661.8 486.5,663.9 493.5,665.7 499.5,667.1 505.5,669.1 511.5,671.5 517.5,673.1 523.5,675.2 530.5,677.6 536.5,679.0 542.5,679.7 548.5,679.4 554.5,679.4 560.5,679.3 567.5,678.5 573.5,676.6 579.5,674.5 585.5,672.5 591.5,670.4 597.5,668.2 604.5,666.5 610.5,665.2 616.5,663.6 622.5,662.6 628.5,661.5 634.5,661.9 641.5,662.5 647.5,662.9 653.5,662.7 659.5,662.9 665.5,663.4 672.5,663.8 678.5,664.8 684.5,665.3 690.5,665.7 696.5,666.3 702.5,667.9 709.5,669.6 715.5,671.9 721.5,674.1 727.5,676.1 733.5,678.4 739.5,681.4 746.5,684.2 752.5,685.3 758.5,686.5 764.5,686.5 770.5,687.0 776.5,685.2 783.5,683.2 789.5,680.3 795.5,676.7 801.5,672.3 807.5,667.4 813.5,662.8 820.5,658.2 826.5,653.5 832.5,649.5 838.5,646.4 844.5,643.9 850.5,642.4 857.5,640.7 863.5,640.7 869.5,640.2 875.5,640.3 881.5,641.2 887.5,643.2 894.5,645.0 900.5,647.0 906.5,648.8 912.5,650.3 918.5,651.9 924.5,653.4 931.5,654.4 937.5,655.0 943.5,655.1 949.5,655.6 955.5,656.1 961.5,655.8 968.5,655.0 974.5,652.9 980.5,651.1 986.5,649.0 992.5,646.5 998.5,646.0 1005.5,645.7 1011.5,645.7 1017.5,645.7 1023.5,646.3 1029.5,647.9 1036.5,649.3 1042.5,649.6 1048.5,650.0 1054.5,651.0 1060.5,652.5 1066.5,653.8 1073.5,654.9 1079.5,656.4 1085.5,656.2 1091.5,655.9 1097.5,655.3 1103.5,654.6 1110.5,653.6 1116.5,652.3 1122.5,650.8 1128.5,650.6 1134.5,651.3 1140.5,651.4 1147.5,651.6 1153.5,652.6 1159.5,653.4 1165.5,654.7 1171.5,655.9 1177.5,656.3 1184.5,657.0 1190.5,658.7 1196.5,660.7 1202.5,661.9 1208.5,663.0 1214.5,664.2 1221.5,664.5 1227.5,665.3 1233.5,665.9 1239.5,666.0 1245.5,665.7 1251.5,665.0 1258.5,664.5 1264.5,664.2 1270.5,664.6 1276.5,664.6 1282.5,663.6 1288.5,663.2 1295.5,663.1 1301.5,663.0 1307.5,663.4 1313.5,664.1 1319.5,665.1" fill="none" stroke="#fdd835" stroke-width="1.2"/>
<polyline points="11.5,658.9 18.5,656.6 24.5,659.2 30.5,660.0 36.5,659.3 42.5,663.0 48.5,650.5 55.5,643.6 61.5,642.0 67.5,655.7 73.5,654.3 79.5,650.3 85.5,652.5 92.5,658.3 98.5,659.9 104.5,658.1 110.5,668.5 116.5,670.8 122.5,677.8 129.5,669.7 135.5,672.4 141.5,669.9 147.5,675.6 153.5,680.3 159.5,677.3 166.5,678.1 172.5,671.6 178.5,669.4 184.5,663.6 190.5,673.9 196.5,668.4 203.5,667.2 209.5,675.1 215.5,665.1 221.5,666.7 227.5,668.1 233.5,672.8 240.5,673.2 246.5,667.3 252.5,666.5 258.5,669.8 264.5,674.9 271.5,675.8 277.5,682.3 283.5,678.1 289.5,677.1 295.5,680.4 301.5,682.5 308.5,682.5 314.5,674.8 320.5,674.0 326.5,670.8 332.5,676.1 338.5,677.9 345.5,668.4 351.5,668.6 357.5,663.9 363.5,651.4 369.5,649.9 375.5,653.6 382.5,653.8 388.5,642.9 394.5,645.0 400.5,649.7 406.5,655.2 412.5,659.1 419.5,653.7 425.5,650.6 431.5,665.5 437.5,658.9 443.5,656.0 449.5,664.1 456.5,671.4 462.5,671.1 468.5,666.4 474.5,669.4 480.5,674.7 486.5,678.7 493.5,679.8 499.5,679.2 505.5,681.8 511.5,684.0 517.5,688.0 523.5,688.9 530.5,689.4 536.5,683.4 542.5,681.1 548.5,667.1 554.5,666.0 560.5,667.5 567.5,663.5 573.5,652.7 579.5,649.9 585.5,651.7 591.5,652.3 597.5,653.7 604.5,663.9 610.5,670.5 616.5,667.5 622.5,668.6 628.5,665.4 634.5,672.7 641.5,674.8 647.5,673.0 653.5,661.4 659.5,654.7 665.5,656.9 672.5,657.4 678.5,666.1 684.5,661.6 690.5,668.8 696.5,678.8 702.5,689.5 709.5,693.2 715.5,698.1 721.5,702.7 727.5,703.7 733.5,704.1 739.5,704.4 746.5,692.7 752.5,673.5 758.5,674.1 764.5,665.7 770.5,668.7 776.5,644.2 783.5,650.1 789.5,649.0 795.5,642.4 801.5,636.4 807.5,634.9 813.5,639.2 820.5,640.1 826.5,637.8 832.5,636.6 838.5,630.9 844.5,638.6 850.5,644.6 857.5,645.5 863.5,644.3 869.5,642.4 875.5,650.7 881.5,654.7 887.5,664.2 894.5,659.9 900.5,668.3 906.5,664.8 912.5,658.2 918.5,659.8 924.5,651.8 931.5,652.4 937.5,653.5 943.5,646.3 949.5,651.0 955.5,650.0 961.5,646.4 968.5,642.6 974.5,635.2 980.5,634.4 986.5,639.1 992.5,630.7 998.5,651.1 1005.5,654.7 1011.5,652.9 1017.5,652.0 1023.5,661.6 1029.5,669.1 1036.5,669.9 1042.5,654.2 1048.5,651.8 1054.5,658.0 1060.5,655.7 1066.5,651.9 1073.5,655.2 1079.5,651.1 1085.5,649.2 1091.5,649.4 1097.5,644.9 1103.5,642.4 1110.5,648.3 1116.5,649.7 1122.5,649.5 1128.5,652.0 1134.5,660.3 1140.5,659.4 1147.5,658.5 1153.5,667.1 1159.5,665.8 1165.5,668.7 1171.5,666.0 1177.5,656.0 1184.5,653.9 1190.5,667.0 1196.5,675.4 1202.5,667.4 1208.5,664.7 1214.5,668.1 1221.5,664.4 1227.5,670.9 1233.5,667.2 1239.5,668.5 1245.5,661.2 1251.5,659.5 1258.5,658.8 1264.5,651.8 1270.5,660.0 1276.5,666.6 1282.5,661.4 1288.5,662.0 1295.5,662.6 1301.5,667.4 1307.5,669.5 1313.5,680.6 1319.5,681.0" fill="none" stroke="#7e57c2" stroke-width="1.2"/>
</g>
<text x="18.4" y="638.5" font-size="12" fill="#50535e" textLength="14.8" lengthAdjust="spacingAndGlyphs">RSI</text>
<text x="42.2" y="638.5" font-size="12" fill="#7e57c2" textLength="27.4" lengthAdjust="spacingAndGlyphs">36.21</text>
<text x="78" y="638.5" font-size="12" fill="#fdd835" textLength="29.4" lengthAdjust="spacingAndGlyphs">48.53</text>
<text x="119" y="638.5" font-size="12" fill="#50535e" text-anchor="middle">∅</text>
<text x="134" y="638.5" font-size="12" fill="#50535e" text-anchor="middle">∅</text>
<text x="150" y="638.5" font-size="12" fill="#50535e" text-anchor="middle">∅</text>
<text x="165" y="638.5" font-size="12" fill="#50535e" text-anchor="middle">∅</text>
<text x="180" y="638.5" font-size="12" fill="#50535e" text-anchor="middle">∅</text>
<text x="196" y="638.5" font-size="12" fill="#50535e" text-anchor="middle">∅</text>
<rect x="1397" y="625" width="91.7" height="14.5" fill="#fff"/>
<text x="1401.3" y="636" font-size="12" fill="#131722" textLength="82.4" lengthAdjust="spacingAndGlyphs">Regular Bearish</text>
<text x="1498" y="636" font-size="12" fill="#131722">58.48</text>
<rect x="1409" y="640" width="79.7" height="16.4" fill="#ffeb3b"/>
<text x="1413.4" y="652.5" font-size="12" fill="#131722" textLength="70.3" lengthAdjust="spacingAndGlyphs">RSI-based MA</text>
<rect x="1490.5" y="640" width="42.5" height="16.4" fill="#ffeb3b" rx="1"/>
<text x="1498" y="652.5" font-size="12" fill="#131722">48.53</text>
<rect x="1400" y="657.3" width="88.7" height="16.5" fill="#fff"/>
<text x="1405.5" y="669.5" font-size="12" fill="#131722" textLength="78.2" lengthAdjust="spacingAndGlyphs">Regular Bullish</text>
<text x="1498" y="669.5" font-size="12" fill="#131722">40.81</text>
<rect x="1463" y="674" width="25.7" height="16.7" fill="#7e57c2"/>
<text x="1476" y="686.5" font-size="12" font-weight="bold" fill="#fff" text-anchor="middle">RSI</text>
<rect x="1490.5" y="674" width="42.5" height="16.7" fill="#7e57c2" rx="1"/>
<text x="1498" y="686.5" font-size="12" font-weight="bold" fill="#fff">36.21</text>
<text x="1498" y="701.7" font-size="12" fill="#50535e">25.00</text>
<g clip-path="url(#mc)">
<line x1="11" y1="756.5" x2="1490" y2="756.5" stroke="#b2b5be" stroke-dasharray="5,5"/>
<rect x="9" y="756.5" width="5" height="7.4" fill="#ffcdd2"/>
<rect x="16" y="756.5" width="5" height="7.1" fill="#ffcdd2"/>
<rect x="22" y="756.5" width="5" height="7.4" fill="#ff5252"/>
<rect x="28" y="756.5" width="5" height="7.5" fill="#ff5252"/>
<rect x="34" y="756.5" width="5" height="7.3" fill="#ffcdd2"/>
<rect x="40" y="756.5" width="5" height="7.7" fill="#ff5252"/>
<rect x="46" y="756.5" width="5" height="4.9" fill="#ffcdd2"/>
<rect x="53" y="756.5" width="5" height="1.1" fill="#ffcdd2"/>
<rect x="59" y="754.8" width="5" height="1.7" fill="#26a69a"/>
<rect x="65" y="755.9" width="5" height="1.0" fill="#b2dfdb"/>
<rect x="71" y="756.4" width="5" height="1.0" fill="#b2dfdb"/>
<rect x="77" y="755.8" width="5" height="1.0" fill="#26a69a"/>
<rect x="83" y="756.1" width="5" height="1.0" fill="#b2dfdb"/>
<rect x="90" y="756.5" width="5" height="1.1" fill="#ff5252"/>
<rect x="96" y="756.5" width="5" height="2.4" fill="#ff5252"/>
<rect x="102" y="756.5" width="5" height="2.9" fill="#ff5252"/>
<rect x="108" y="756.5" width="5" height="5.4" fill="#ff5252"/>
<rect x="114" y="756.5" width="5" height="7.3" fill="#ff5252"/>
<rect x="120" y="756.5" width="5" height="10.1" fill="#ff5252"/>
<rect x="127" y="756.5" width="5" height="9.8" fill="#ffcdd2"/>
<rect x="133" y="756.5" width="5" height="9.9" fill="#ff5252"/>
<rect x="139" y="756.5" width="5" height="9.1" fill="#ffcdd2"/>
<rect x="145" y="756.5" width="5" height="9.5" fill="#ff5252"/>
<rect x="151" y="756.5" width="5" height="10.6" fill="#ff5252"/>
<rect x="157" y="756.5" width="5" height="10.2" fill="#ffcdd2"/>
<rect x="164" y="756.5" width="5" height="9.6" fill="#ffcdd2"/>
<rect x="170" y="756.5" width="5" height="7.6" fill="#ffcdd2"/>
<rect x="176" y="756.5" width="5" height="5.5" fill="#ffcdd2"/>
<rect x="182" y="756.5" width="5" height="2.7" fill="#ffcdd2"/>
<rect x="188" y="756.5" width="5" height="3.0" fill="#ff5252"/>
<rect x="194" y="756.5" width="5" height="1.9" fill="#ffcdd2"/>
<rect x="201" y="756.5" width="5" height="1.0" fill="#ffcdd2"/>
<rect x="207" y="756.5" width="5" height="1.8" fill="#ff5252"/>
<rect x="213" y="756.5" width="5" height="1.0" fill="#ffcdd2"/>
<rect x="219" y="756.1" width="5" height="1.0" fill="#26a69a"/>
<rect x="225" y="755.8" width="5" height="1.0" fill="#26a69a"/>
<rect x="231" y="756.5" width="5" height="1.0" fill="#ff5252"/>
<rect x="238" y="756.5" width="5" height="1.0" fill="#ff5252"/>
<rect x="244" y="756.4" width="5" height="1.0" fill="#26a69a"/>
<rect x="250" y="755.7" width="5" height="1.0" fill="#26a69a"/>
<rect x="256" y="755.8" width="5" height="1.0" fill="#b2dfdb"/>
<rect x="262" y="756.5" width="5" height="1.0" fill="#ff5252"/>
<rect x="269" y="756.5" width="5" height="1.0" fill="#ff5252"/>
<rect x="275" y="756.5" width="5" height="2.8" fill="#ff5252"/>
<rect x="281" y="756.5" width="5" height="3.1" fill="#ff5252"/>
<rect x="287" y="756.5" width="5" height="2.9" fill="#ffcdd2"/>
<rect x="293" y="756.5" width="5" height="3.1" fill="#ff5252"/>
<rect x="299" y="756.5" width="5" height="3.5" fill="#ff5252"/>
<rect x="306" y="756.5" width="5" height="3.4" fill="#ffcdd2"/>
<rect x="312" y="756.5" width="5" height="2.1" fill="#ffcdd2"/>
<rect x="318" y="756.5" width="5" height="1.0" fill="#ffcdd2"/>
<rect x="324" y="756.1" width="5" height="1.0" fill="#26a69a"/>
<rect x="330" y="756.0" width="5" height="1.0" fill="#26a69a"/>
<rect x="336" y="756.1" width="5" height="1.0" fill="#b2dfdb"/>
<rect x="343" y="754.9" width="5" height="1.6" fill="#26a69a"/>
<rect x="349" y="754.2" width="5" height="2.3" fill="#26a69a"/>
<rect x="355" y="753.1" width="5" height="3.4" fill="#26a69a"/>
<rect x="361" y="750.6" width="5" height="5.9" fill="#26a69a"/>
<rect x="367" y="748.9" width="5" height="7.6" fill="#26a69a"/>
<rect x="373" y="748.6" width="5" height="7.9" fill="#26a69a"/>
<rect x="380" y="748.8" width="5" height="7.7" fill="#b2dfdb"/>
<rect x="386" y="747.4" width="5" height="9.1" fill="#26a69a"/>
<rect x="392" y="747.1" width="5" height="9.4" fill="#26a69a"/>
<rect x="398" y="747.9" width="5" height="8.6" fill="#b2dfdb"/>
<rect x="404" y="749.5" width="5" height="7.0" fill="#b2dfdb"/>
<rect x="410" y="751.4" width="5" height="5.1" fill="#b2dfdb"/>
<rect x="417" y="752.1" width="5" height="4.4" fill="#b2dfdb"/>
<rect x="423" y="752.3" width="5" height="4.2" fill="#b2dfdb"/>
<rect x="429" y="754.6" width="5" height="1.9" fill="#b2dfdb"/>
<rect x="435" y="755.2" width="5" height="1.3" fill="#b2dfdb"/>
<rect x="441" y="755.2" width="5" height="1.3" fill="#b2dfdb"/>
<rect x="447" y="756.5" width="5" height="1.0" fill="#ff5252"/>
<rect x="454" y="756.5" width="5" height="2.1" fill="#ff5252"/>
<rect x="460" y="756.5" width="5" height="3.4" fill="#ff5252"/>
<rect x="466" y="756.5" width="5" height="3.4" fill="#ffcdd2"/>
<rect x="472" y="756.5" width="5" height="3.7" fill="#ff5252"/>
<rect x="478" y="756.5" width="5" height="4.6" fill="#ff5252"/>
<rect x="484" y="756.5" width="5" height="5.7" fill="#ff5252"/>
<rect x="491" y="756.5" width="5" height="6.4" fill="#ff5252"/>
<rect x="497" y="756.5" width="5" height="6.3" fill="#ffcdd2"/>
<rect x="503" y="756.5" width="5" height="6.4" fill="#ff5252"/>
<rect x="509" y="756.5" width="5" height="6.5" fill="#ff5252"/>
<rect x="515" y="756.5" width="5" height="6.9" fill="#ff5252"/>
<rect x="521" y="756.5" width="5" height="6.9" fill="#ff5252"/>
<rect x="528" y="756.5" width="5" height="6.6" fill="#ffcdd2"/>
<rect x="534" y="756.5" width="5" height="5.4" fill="#ffcdd2"/>
<rect x="540" y="756.5" width="5" height="4.1" fill="#ffcdd2"/>
<rect x="546" y="756.5" width="5" height="1.5" fill="#ffcdd2"/>
<rect x="552" y="756.1" width="5" height="1.0" fill="#26a69a"/>
<rect x="558" y="754.9" width="5" height="1.6" fill="#26a69a"/>
<rect x="565" y="753.8" width="5" height="2.7" fill="#26a69a"/>
<rect x="571" y="751.7" width="5" height="4.8" fill="#26a69a"/>
<rect x="577" y="750.2" width="5" height="6.3" fill="#26a69a"/>
<rect x="583" y="749.7" width="5" height="6.8" fill="#26a69a"/>
<rect x="589" y="749.7" width="5" height="6.8" fill="#26a69a"/>
<rect x="595" y="750.1" width="5" height="6.4" fill="#b2dfdb"/>
<rect x="602" y="751.6" width="5" height="4.9" fill="#b2dfdb"/>
<rect x="608" y="753.5" width="5" height="3.0" fill="#b2dfdb"/>
<rect x="614" y="754.5" width="5" height="2.0" fill="#b2dfdb"/>
<rect x="620" y="755.4" width="5" height="1.1" fill="#b2dfdb"/>
<rect x="626" y="755.7" width="5" height="1.0" fill="#b2dfdb"/>
<rect x="632" y="756.5" width="5" height="1.0" fill="#ff5252"/>
<rect x="639" y="756.5" width="5" height="1.0" fill="#ff5252"/>
<rect x="645" y="756.5" width="5" height="1.3" fill="#ff5252"/>
<rect x="651" y="756.5" width="5" height="1.0" fill="#ffcdd2"/>
<rect x="657" y="755.4" width="5" height="1.1" fill="#26a69a"/>
<rect x="663" y="754.8" width="5" height="1.7" fill="#26a69a"/>
<rect x="670" y="754.5" width="5" height="2.0" fill="#26a69a"/>
<rect x="676" y="755.3" width="5" height="1.2" fill="#b2dfdb"/>
<rect x="682" y="755.3" width="5" height="1.2" fill="#b2dfdb"/>
<rect x="688" y="756.2" width="5" height="1.0" fill="#b2dfdb"/>
<rect x="694" y="756.5" width="5" height="1.4" fill="#ff5252"/>
<rect x="700" y="756.5" width="5" height="4.3" fill="#ff5252"/>
<rect x="707" y="756.5" width="5" height="6.7" fill="#ff5252"/>
<rect x="713" y="756.5" width="5" height="9.2" fill="#ff5252"/>
<rect x="719" y="756.5" width="5" height="11.6" fill="#ff5252"/>
<rect x="725" y="756.5" width="5" height="12.9" fill="#ff5252"/>
<rect x="731" y="756.5" width="5" height="13.0" fill="#ff5252"/>
<rect x="737" y="756.5" width="5" height="12.4" fill="#ffcdd2"/>
<rect x="744" y="756.5" width="5" height="10.2" fill="#ffcdd2"/>
<rect x="750" y="756.5" width="5" height="5.8" fill="#ffcdd2"/>
<rect x="756" y="756.5" width="5" height="2.7" fill="#ffcdd2"/>
<rect x="762" y="755.8" width="5" height="1.0" fill="#26a69a"/>
<rect x="768" y="753.9" width="5" height="2.6" fill="#26a69a"/>
<rect x="774" y="747.7" width="5" height="8.8" fill="#26a69a"/>
<rect x="781" y="745.1" width="5" height="11.4" fill="#26a69a"/>
<rect x="787" y="743.7" width="5" height="12.8" fill="#26a69a"/>
<rect x="793" y="741.4" width="5" height="15.1" fill="#26a69a"/>
<rect x="799" y="738.7" width="5" height="17.8" fill="#26a69a"/>
<rect x="805" y="737.3" width="5" height="19.2" fill="#26a69a"/>
<rect x="811" y="738.1" width="5" height="18.4" fill="#b2dfdb"/>
<rect x="818" y="739.7" width="5" height="16.8" fill="#b2dfdb"/>
<rect x="824" y="741.0" width="5" height="15.5" fill="#b2dfdb"/>
<rect x="830" y="742.3" width="5" height="14.2" fill="#b2dfdb"/>
<rect x="836" y="742.1" width="5" height="14.4" fill="#26a69a"/>
<rect x="842" y="743.9" width="5" height="12.6" fill="#b2dfdb"/>
<rect x="848" y="746.9" width="5" height="9.6" fill="#b2dfdb"/>
<rect x="855" y="749.5" width="5" height="7.0" fill="#b2dfdb"/>
<rect x="861" y="751.5" width="5" height="5.0" fill="#b2dfdb"/>
<rect x="867" y="752.8" width="5" height="3.7" fill="#b2dfdb"/>
<rect x="873" y="755.2" width="5" height="1.3" fill="#b2dfdb"/>
<rect x="879" y="756.5" width="5" height="1.2" fill="#ff5252"/>
<rect x="885" y="756.5" width="5" height="4.5" fill="#ff5252"/>
<rect x="892" y="756.5" width="5" height="5.8" fill="#ff5252"/>
<rect x="898" y="756.5" width="5" height="8.1" fill="#ff5252"/>
<rect x="904" y="756.5" width="5" height="8.7" fill="#ff5252"/>
<rect x="910" y="756.5" width="5" height="7.6" fill="#ffcdd2"/>
<rect x="916" y="756.5" width="5" height="6.9" fill="#ffcdd2"/>
<rect x="922" y="756.5" width="5" height="4.6" fill="#ffcdd2"/>
<rect x="929" y="756.5" width="5" height="3.1" fill="#ffcdd2"/>
<rect x="935" y="756.5" width="5" height="2.4" fill="#ffcdd2"/>
<rect x="941" y="756.5" width="5" height="1.0" fill="#ffcdd2"/>
<rect x="947" y="756.3" width="5" height="1.0" fill="#26a69a"/>
<rect x="953" y="756.0" width="5" height="1.0" fill="#26a69a"/>
<rect x="959" y="755.1" width="5" height="1.4" fill="#26a69a"/>
<rect x="966" y="753.9" width="5" height="2.6" fill="#26a69a"/>
<rect x="972" y="751.4" width="5" height="5.1" fill="#26a69a"/>
<rect x="978" y="749.9" width="5" height="6.6" fill="#26a69a"/>
<rect x="984" y="750.2" width="5" height="6.3" fill="#b2dfdb"/>
<rect x="990" y="748.1" width="5" height="8.4" fill="#26a69a"/>
<rect x="996" y="750.8" width="5" height="5.7" fill="#b2dfdb"/>
<rect x="1003" y="753.7" width="5" height="2.8" fill="#b2dfdb"/>
<rect x="1009" y="755.4" width="5" height="1.1" fill="#b2dfdb"/>
<rect x="1015" y="756.5" width="5" height="1.0" fill="#ff5252"/>
<rect x="1021" y="756.5" width="5" height="2.9" fill="#ff5252"/>
<rect x="1027" y="756.5" width="5" height="6.4" fill="#ff5252"/>
<rect x="1034" y="756.5" width="5" height="8.7" fill="#ff5252"/>
<rect x="1040" y="756.5" width="5" height="6.1" fill="#ffcdd2"/>
<rect x="1046" y="756.5" width="5" height="3.7" fill="#ffcdd2"/>
<rect x="1052" y="756.5" width="5" height="3.5" fill="#ffcdd2"/>
<rect x="1058" y="756.5" width="5" height="2.7" fill="#ffcdd2"/>
<rect x="1064" y="756.5" width="5" height="1.2" fill="#ffcdd2"/>
<rect x="1071" y="756.5" width="5" height="1.0" fill="#ffcdd2"/>
<rect x="1077" y="756.4" width="5" height="1.0" fill="#26a69a"/>
<rect x="1083" y="755.3" width="5" height="1.2" fill="#26a69a"/>
<rect x="1089" y="754.9" width="5" height="1.6" fill="#26a69a"/>
<rect x="1095" y="753.6" width="5" height="2.9" fill="#26a69a"/>
<rect x="1101" y="752.4" width="5" height="4.1" fill="#26a69a"/>
<rect x="1108" y="753.0" width="5" height="3.5" fill="#b2dfdb"/>
<rect x="1114" y="753.9" width="5" height="2.6" fill="#b2dfdb"/>
<rect x="1120" y="754.8" width="5" height="1.7" fill="#b2dfdb"/>
<rect x="1126" y="756.0" width="5" height="1.0" fill="#b2dfdb"/>
<rect x="1132" y="756.5" width="5" height="1.7" fill="#ff5252"/>
<rect x="1138" y="756.5" width="5" height="3.1" fill="#ff5252"/>
<rect x="1145" y="756.5" width="5" height="3.8" fill="#ff5252"/>
<rect x="1151" y="756.5" width="5" height="5.5" fill="#ff5252"/>
<rect x="1157" y="756.5" width="5" height="6.3" fill="#ff5252"/>
<rect x="1163" y="756.5" width="5" height="7.1" fill="#ff5252"/>
<rect x="1169" y="756.5" width="5" height="7.0" fill="#ffcdd2"/>
<rect x="1175" y="756.5" width="5" height="5.0" fill="#ffcdd2"/>
<rect x="1182" y="756.5" width="5" height="3.3" fill="#ffcdd2"/>
<rect x="1188" y="756.5" width="5" height="4.2" fill="#ff5252"/>
<rect x="1194" y="756.5" width="5" height="6.3" fill="#ff5252"/>
<rect x="1200" y="756.5" width="5" height="6.0" fill="#ffcdd2"/>
<rect x="1206" y="756.5" width="5" height="5.1" fill="#ffcdd2"/>
<rect x="1212" y="756.5" width="5" height="4.9" fill="#ffcdd2"/>
<rect x="1219" y="756.5" width="5" height="4.0" fill="#ffcdd2"/>
<rect x="1225" y="756.5" width="5" height="4.4" fill="#ff5252"/>
<rect x="1231" y="756.5" width="5" height="3.9" fill="#ffcdd2"/>
<rect x="1237" y="756.5" width="5" height="3.6" fill="#ffcdd2"/>
<rect x="1243" y="756.5" width="5" height="2.0" fill="#ffcdd2"/>
<rect x="1249" y="756.5" width="5" height="1.0" fill="#ffcdd2"/>
<rect x="1256" y="756.0" width="5" height="1.0" fill="#26a69a"/>
<rect x="1262" y="754.1" width="5" height="2.4" fill="#26a69a"/>
<rect x="1268" y="754.3" width="5" height="2.2" fill="#b2dfdb"/>
<rect x="1274" y="755.6" width="5" height="1.0" fill="#b2dfdb"/>
<rect x="1280" y="755.6" width="5" height="1.0" fill="#26a69a"/>
<rect x="1286" y="755.7" width="5" height="1.0" fill="#b2dfdb"/>
<rect x="1293" y="756.0" width="5" height="1.0" fill="#b2dfdb"/>
<rect x="1299" y="756.5" width="5" height="1.0" fill="#ff5252"/>
<rect x="1305" y="756.5" width="5" height="1.3" fill="#ff5252"/>
<rect x="1311" y="756.5" width="5" height="3.9" fill="#ff5252"/>
<rect x="1317" y="756.5" width="5" height="5.4" fill="#ff5252"/>
<polyline points="11.5,734.9 18.5,736.5 24.5,738.6 30.5,740.6 36.5,742.2 42.5,744.5 48.5,742.9 55.5,739.4 61.5,736.2 67.5,737.1 73.5,737.6 79.5,736.8 85.5,737.0 92.5,738.8 98.5,740.7 104.5,742.0 110.5,745.8 116.5,749.5 122.5,754.8 129.5,757.0 135.5,759.6 141.5,761.0 147.5,763.8 153.5,767.5 159.5,769.6 166.5,771.5 172.5,771.3 178.5,770.6 184.5,768.5 190.5,769.6 196.5,769.0 203.5,768.1 209.5,769.5 215.5,768.0 221.5,767.2 227.5,766.8 233.5,767.7 240.5,768.5 246.5,767.6 252.5,766.6 258.5,766.6 264.5,767.7 271.5,768.7 277.5,771.2 283.5,772.2 289.5,772.7 295.5,773.8 301.5,775.0 308.5,775.7 314.5,774.9 320.5,774.0 326.5,772.5 332.5,772.3 338.5,772.3 345.5,770.8 351.5,769.4 357.5,767.5 363.5,763.5 369.5,760.0 375.5,757.7 382.5,755.9 388.5,752.2 394.5,749.6 400.5,748.3 406.5,748.2 412.5,748.8 419.5,748.3 425.5,747.4 431.5,749.3 437.5,749.6 443.5,749.2 449.5,750.6 456.5,753.2 462.5,755.3 468.5,756.1 474.5,757.4 480.5,759.5 486.5,762.0 493.5,764.3 499.5,765.8 505.5,767.5 511.5,769.2 517.5,771.4 523.5,773.1 530.5,774.4 536.5,774.6 542.5,774.3 548.5,772.1 554.5,770.1 560.5,768.5 567.5,766.7 573.5,763.4 579.5,760.4 585.5,758.1 591.5,756.4 597.5,755.2 604.5,755.5 610.5,756.6 616.5,757.2 622.5,757.8 628.5,757.8 634.5,758.8 641.5,759.9 647.5,760.5 653.5,759.6 659.5,758.0 665.5,757.0 672.5,756.2 678.5,756.6 684.5,756.4 690.5,757.1 696.5,759.3 702.5,763.3 709.5,767.3 715.5,772.0 721.5,777.4 727.5,781.9 733.5,785.3 739.5,787.8 746.5,788.1 752.5,785.2 758.5,782.8 764.5,779.1 770.5,776.6 776.5,768.3 783.5,762.8 789.5,758.2 795.5,752.2 801.5,745.0 807.5,738.8 813.5,735.0 820.5,732.4 826.5,729.8 832.5,727.6 838.5,723.8 844.5,722.5 850.5,723.0 857.5,723.9 863.5,724.7 869.5,725.0 875.5,727.1 881.5,729.9 887.5,734.3 894.5,737.1 900.5,741.4 906.5,744.2 912.5,745.0 918.5,746.0 924.5,744.9 931.5,744.2 937.5,744.0 943.5,742.0 949.5,741.5 955.5,741.0 961.5,739.8 968.5,738.0 974.5,734.1 980.5,731.1 986.5,729.7 992.5,725.5 998.5,726.8 1005.5,729.0 1011.5,730.5 1017.5,731.6 1023.5,735.1 1029.5,740.3 1036.5,744.8 1042.5,743.7 1048.5,742.2 1054.5,742.9 1060.5,742.8 1066.5,741.6 1073.5,741.6 1079.5,740.5 1085.5,739.1 1091.5,738.2 1097.5,736.3 1103.5,734.1 1110.5,733.8 1116.5,734.1 1122.5,734.5 1128.5,735.5 1134.5,738.2 1140.5,740.3 1147.5,742.0 1153.5,745.1 1159.5,747.5 1165.5,750.1 1171.5,751.7 1177.5,751.0 1184.5,750.1 1190.5,752.0 1196.5,755.7 1202.5,756.9 1208.5,757.2 1214.5,758.3 1221.5,758.3 1227.5,759.9 1233.5,760.3 1239.5,760.9 1245.5,759.8 1251.5,758.5 1258.5,757.3 1264.5,754.9 1270.5,754.4 1276.5,755.6 1282.5,755.3 1288.5,755.3 1295.5,755.4 1301.5,756.4 1307.5,757.6 1313.5,761.2 1319.5,764.0" fill="none" stroke="#2962ff" stroke-width="1.2"/>
<polyline points="11.5,727.6 18.5,729.4 24.5,731.2 30.5,733.1 36.5,734.9 42.5,736.8 48.5,738.1 55.5,738.3 61.5,737.9 67.5,737.7 73.5,737.7 79.5,737.5 85.5,737.4 92.5,737.7 98.5,738.3 104.5,739.0 110.5,740.4 116.5,742.2 122.5,744.7 129.5,747.2 135.5,749.7 141.5,751.9 147.5,754.3 153.5,756.9 159.5,759.5 166.5,761.9 172.5,763.8 178.5,765.1 184.5,765.8 190.5,766.5 196.5,767.0 203.5,767.2 209.5,767.7 215.5,767.8 221.5,767.7 227.5,767.5 233.5,767.5 240.5,767.7 246.5,767.7 252.5,767.5 258.5,767.3 264.5,767.4 271.5,767.6 277.5,768.4 283.5,769.1 289.5,769.8 295.5,770.6 301.5,771.5 308.5,772.3 314.5,772.9 320.5,773.1 326.5,773.0 332.5,772.8 338.5,772.7 345.5,772.3 351.5,771.8 357.5,770.9 363.5,769.4 369.5,767.5 375.5,765.6 382.5,763.6 388.5,761.4 394.5,759.0 400.5,756.9 406.5,755.1 412.5,753.9 419.5,752.8 425.5,751.7 431.5,751.2 437.5,750.9 443.5,750.6 449.5,750.6 456.5,751.1 462.5,751.9 468.5,752.8 474.5,753.7 480.5,754.9 486.5,756.3 493.5,757.9 499.5,759.5 505.5,761.1 511.5,762.7 517.5,764.4 523.5,766.2 530.5,767.8 536.5,769.2 542.5,770.2 548.5,770.6 554.5,770.5 560.5,770.1 567.5,769.4 573.5,768.2 579.5,766.6 585.5,764.9 591.5,763.2 597.5,761.6 604.5,760.4 610.5,759.6 616.5,759.2 622.5,758.9 628.5,758.7 634.5,758.7 641.5,758.9 647.5,759.3 653.5,759.3 659.5,759.1 665.5,758.6 672.5,758.2 678.5,757.8 684.5,757.6 690.5,757.5 696.5,757.8 702.5,758.9 709.5,760.6 715.5,762.9 721.5,765.8 727.5,769.0 733.5,772.3 739.5,775.4 746.5,777.9 752.5,779.4 758.5,780.1 764.5,779.9 770.5,779.2 776.5,777.0 783.5,774.2 789.5,771.0 795.5,767.2 801.5,762.8 807.5,758.0 813.5,753.4 820.5,749.2 826.5,745.3 832.5,741.8 838.5,738.2 844.5,735.0 850.5,732.6 857.5,730.9 863.5,729.6 869.5,728.7 875.5,728.4 881.5,728.7 887.5,729.8 894.5,731.3 900.5,733.3 906.5,735.5 912.5,737.4 918.5,739.1 924.5,740.3 931.5,741.0 937.5,741.6 943.5,741.7 949.5,741.7 955.5,741.5 961.5,741.2 968.5,740.6 974.5,739.3 980.5,737.6 986.5,736.0 992.5,733.9 998.5,732.5 1005.5,731.8 1011.5,731.5 1017.5,731.5 1023.5,732.3 1029.5,733.9 1036.5,736.1 1042.5,737.6 1048.5,738.5 1054.5,739.4 1060.5,740.1 1066.5,740.4 1073.5,740.6 1079.5,740.6 1085.5,740.3 1091.5,739.9 1097.5,739.1 1103.5,738.1 1110.5,737.3 1116.5,736.6 1122.5,736.2 1128.5,736.1 1134.5,736.5 1140.5,737.3 1147.5,738.2 1153.5,739.6 1159.5,741.2 1165.5,743.0 1171.5,744.7 1177.5,746.0 1184.5,746.8 1190.5,747.8 1196.5,749.4 1202.5,750.9 1208.5,752.2 1214.5,753.4 1221.5,754.4 1227.5,755.5 1233.5,756.4 1239.5,757.3 1245.5,757.8 1251.5,758.0 1258.5,757.8 1264.5,757.2 1270.5,756.7 1276.5,756.5 1282.5,756.2 1288.5,756.0 1295.5,755.9 1301.5,756.0 1307.5,756.3 1313.5,757.3 1319.5,758.7" fill="none" stroke="#ff6d00" stroke-width="1.2"/>
</g>
<text x="17.9" y="734" font-size="12" fill="#50535e" textLength="29.4" lengthAdjust="spacingAndGlyphs">MACD</text>
<text x="55.8" y="734" font-size="12" fill="#f23645" textLength="28.6" lengthAdjust="spacingAndGlyphs">−4.47</text>
<text x="93.4" y="734" font-size="12" fill="#2962ff" textLength="28.1" lengthAdjust="spacingAndGlyphs">−6.23</text>
<text x="130.4" y="734" font-size="12" fill="#ff6d00" textLength="27.6" lengthAdjust="spacingAndGlyphs">−1.76</text>
<rect x="1448" y="736" width="40.7" height="16" fill="#ff6d00"/>
<text x="1484" y="748.3" font-size="12" fill="#fff" text-anchor="end">Signal</text>
<rect x="1490.5" y="736" width="42.3" height="16" fill="#ff6d00" rx="1"/>
<text x="1499" y="748.3" font-size="12" fill="#fff">−1.76</text>
<rect x="1425" y="753" width="63.7" height="17" fill="#ff5252"/>
<text x="1484" y="765.7" font-size="12" fill="#fff" text-anchor="end">Histogram</text>
<rect x="1490.5" y="753" width="42.3" height="17" fill="#ff5252" rx="1"/>
<text x="1499" y="765.7" font-size="12" fill="#fff">−4.47</text>
<rect x="1449" y="770" width="39.7" height="16.5" fill="#2962ff"/>
<text x="1484" y="782.5" font-size="12" fill="#fff" text-anchor="end">MACD</text>
<rect x="1490.5" y="770" width="42.3" height="16.5" fill="#2962ff" rx="1"/>
<text x="1499" y="782.5" font-size="12" fill="#fff">−6.23</text>
<text x="42" y="812" font-size="12" fill="#50535e" text-anchor="middle" stroke="none" stroke-width="0">May</text>
<text x="184" y="812" font-size="12" fill="#50535e" text-anchor="middle" stroke="none" stroke-width="0">Jun</text>
<text x="319.7" y="812" font-size="12" fill="#50535e" text-anchor="middle" stroke="none" stroke-width="0">Jul</text>
<text x="449" y="812" font-size="12" fill="#50535e" text-anchor="middle" stroke="none" stroke-width="0">Aug</text>
<text x="590.8" y="812" font-size="12" fill="#50535e" text-anchor="middle" stroke="none" stroke-width="0">Sep</text>
<text x="720" y="812" font-size="12" fill="#50535e" text-anchor="middle" stroke="none" stroke-width="0">Oct</text>
<text x="856.6" y="812" font-size="12" fill="#50535e" text-anchor="middle" stroke="none" stroke-width="0">Nov</text>
<text x="992" y="812" font-size="12" fill="#50535e" text-anchor="middle" stroke="none" stroke-width="0">Dec</text>
<text x="1122" y="812" font-size="12" fill="#434651" text-anchor="middle" stroke="#434651" stroke-width="0.35">2024</text>
<text x="1263.2" y="812" font-size="12" fill="#50535e" text-anchor="middle" stroke="none" stroke-width="0">Feb</text>
<text x="1392" y="812" font-size="12" fill="#50535e" text-anchor="middle" stroke="none" stroke-width="0">Mar</text>
<g fill="#131722"><path d="M10 834.5h9v9.5h-4.5v-5.2H10z"/><circle cx="21.7" cy="837" r="2.3"/><path d="M25 834.5h5l-5.2 9.5h-4.8z"/></g>
<text x="33" y="844" font-size="13.5" fill="#131722" textLength="70" lengthAdjust="spacingAndGlyphs">TradingView</text>
<defs><filter id="wsh" x="-20%" y="-20%" width="140%" height="140%"><feDropShadow dx="-1.6" dy="1.6" stdDeviation="0.7" flood-color="#3a3a3a" flood-opacity="0.85"/></filter><filter id="wsh2" x="-20%" y="-20%" width="140%" height="140%"><feDropShadow dx="-1" dy="1" stdDeviation="0.4" flood-color="#1f5f5f" flood-opacity="0.9"/></filter></defs>
<g opacity="0.82"><g filter="url(#wsh)" stroke="#ffffff" stroke-width="6.5" stroke-linecap="butt" stroke-linejoin="miter" fill="none">
<polyline points="1333,776 1381,773"/>
<polyline points="1381,766 1368,818"/>
<polyline points="1340,766 1339,773"/>
<polyline points="1336,783 1334,790"/>
<polyline points="1335,798 1318,819"/>
<polyline points="1350,783 1367,783"/>
<polyline points="1350,783 1346,793"/>
<polyline points="1345,801 1363,801"/>
<polyline points="1345,801 1342,811"/>
<polyline points="1334,818 1368,818"/>
<polyline points="1362,783 1366,793"/>
<polyline points="1358,801 1360,811"/>
<polyline points="1391,772 1428,772"/>
<polyline points="1428,772 1425,786"/>
<polyline points="1397,775 1393,787"/>
<polyline points="1388,794 1440,794"/>
<polyline points="1441,760 1429,817"/>
<polyline points="1429,817 1400,818"/>
<polyline points="1381,808 1420,808"/>
<polyline points="1454,774 1441,816"/>
<polyline points="1475,770 1461,816"/>
<polyline points="1453,774 1476,773"/>
<polyline points="1448,795 1470,795"/>
<polyline points="1503,765 1489,821"/>
<polyline points="1527,766 1496,797"/>
<polyline points="1480,780 1530,780"/>
<polyline points="1532,772 1560,771"/>
<polyline points="1560,769 1540,790"/>
<polyline points="1522,775 1552,790"/>
<polyline points="1510,800 1556,800"/>
<polyline points="1536,800 1530,818"/>
<polyline points="1497,818 1550,818"/>
<polyline points="1512,784 1500,806"/>
<polyline points="1515,767 1506,783"/>
</g></g>
<text x="1329" y="851" font-size="31" font-weight="bold" font-style="italic" fill="#8eabf6" stroke="#8eabf6" stroke-width="2" filter="url(#wsh2)" textLength="222" lengthAdjust="spacing">zzrt01.cn</text>
</svg></body></html>
